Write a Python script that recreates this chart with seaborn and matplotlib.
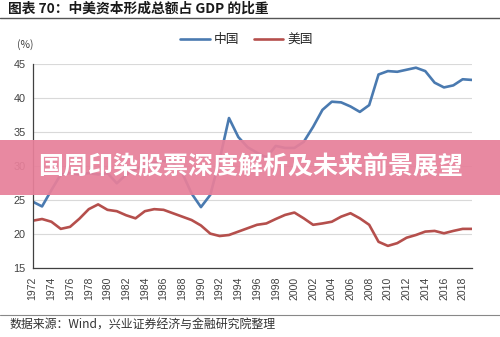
import matplotlib
matplotlib.use("Agg")
import matplotlib.pyplot as plt
import seaborn as sns
import pandas as pd
from matplotlib.patches import Rectangle
from matplotlib.lines import Line2D

years = list(range(1972, 2020))
china = [24.8, 24.1, 26.5, 28.8, 29.0, 28.8, 29.0, 28.8, 29.0, 27.5,
         28.8, 29.5, 30.2, 30.5, 30.8, 30.5, 29.0, 26.0, 24.0, 25.8,
         31.0, 37.1, 34.3, 32.8, 32.0, 31.3, 33.0, 32.7, 32.7, 33.6,
         35.8, 38.3, 39.5, 39.4, 38.8, 38.0, 39.0, 43.5, 44.0, 43.9,
         44.2, 44.5, 44.0, 42.3, 41.6, 41.9, 42.8, 42.7]
usa = [22.0, 22.25, 21.85, 20.8, 21.1, 22.3, 23.7, 24.4, 23.6, 23.4,
       22.8, 22.35, 23.4, 23.7, 23.6, 23.1, 22.6, 22.1, 21.3, 20.1,
       19.75, 19.9, 20.4, 20.9, 21.4, 21.6, 22.25, 22.85, 23.2, 22.35,
       21.4, 21.6, 21.85, 22.6, 23.1, 22.35, 21.4, 18.9, 18.3, 18.7,
       19.5, 19.9, 20.4, 20.5, 20.15, 20.5, 20.8, 20.8]
series_names = ["中国", "美国"]
x_ticks = list(range(1972, 2019, 2))
y_ticks = [15, 20, 25, 30, 35, 40, 45]
title = "图表 70：中美资本形成总额占 GDP 的比重"
source = "数据来源：Wind，兴业证券经济与金融研究院整理"
banner = "国周印染股票深度解析及未来前景展望"

sns.set_theme(style="white")
plt.rcParams['font.family'] = ['Noto Sans CJK SC', 'DejaVu Sans']

df = pd.DataFrame({
    "year": years * 2,
    "value": china + usa,
    "country": [series_names[0]] * len(years) + [series_names[1]] * len(years),
})

colors = {"中国": "#4a7ab0", "美国": "#b54f4c"}

fig = plt.figure(figsize=(5.0, 3.37), dpi=100)
ax = fig.add_axes([0.0654, 0.2038, 0.8786, 0.6054])
sns.lineplot(data=df, x="year", y="value", hue="country", palette=colors,
             linewidth=1.9, ax=ax, legend=False)

ax.set_xlim(1972, 2019)
ax.set_ylim(15, 45)
ax.set_xticks(x_ticks)
ax.set_xticklabels([str(t) for t in x_ticks], rotation=90,
                   fontsize=7.5, color="#404040", family=['Liberation Sans'])
ax.set_yticks(y_ticks)
ax.set_yticklabels([str(t) for t in y_ticks], fontsize=7.8, color="#404040",
                   family=['Liberation Sans'])
ax.set_xlabel("")
ax.set_ylabel("")
ax.yaxis.grid(True, color="#d9d9d9", linewidth=0.8)
ax.xaxis.grid(False)
for s in ["top", "right"]:
    ax.spines[s].set_visible(False)
for s in ["left", "bottom"]:
    ax.spines[s].set_color("#404040")
    ax.spines[s].set_linewidth(0.9)
ax.tick_params(axis="x", which="major", direction="out", length=4, width=0.8,
               color="#404040", pad=2)
ax.tick_params(axis="y", which="major", direction="out", length=3, width=0.8,
               color="#404040", pad=2)

# legend
handles = [Line2D([0], [0], color=colors[n], linewidth=1.9) for n in series_names]
fig.legend(handles, series_names, loc="center", bbox_to_anchor=(0.493, 1 - 40 / 337),
           ncol=2, frameon=False, fontsize=9.2, handlelength=2.3,
           columnspacing=1.1, handletextpad=0.35,
           prop={'family': ['Noto Sans CJK SC'], 'size': 9.2})

# (%) label
fig.text(25 / 500, 1 - 45 / 337, "(%)", fontsize=7.5, color="#404040",
         ha="center", va="center")

# title and rule
fig.text(8 / 500, 1 - 8.5 / 337, title, fontsize=9.9, fontweight="bold",
         color="#1a1a1a", ha="left", va="center")
fig.add_artist(Line2D([0, 1], [1 - 17.5 / 337, 1 - 17.5 / 337], transform=fig.transFigure,
                      color="#555555", linewidth=1.0))

# footer rule and source
fig.add_artist(Line2D([0, 1], [1 - 315 / 337, 1 - 315 / 337], transform=fig.transFigure,
                      color="#888888", linewidth=0.8))
fig.text(10 / 500, 1 - 325 / 337, source, fontsize=8.6, color="#333333",
         ha="left", va="center")

# banner overlay
fig.add_artist(Rectangle((0, 1 - 195 / 337), 1, 55 / 337, transform=fig.transFigure,
                         facecolor="#e7809a", edgecolor="none", alpha=0.93, zorder=10))
fig.text(0.502, 1 - 168 / 337, banner, fontsize=18, fontweight="bold", color="white",
         ha="center", va="center", zorder=11)

fig.savefig("out.png", dpi=100)
